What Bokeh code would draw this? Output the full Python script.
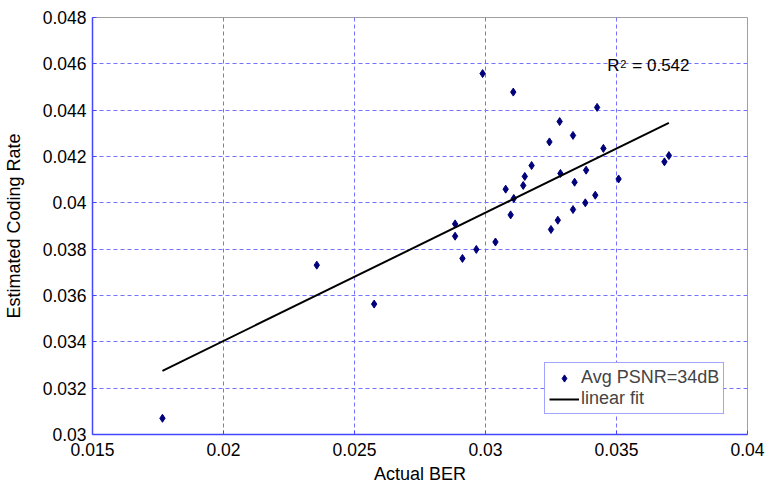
import numpy as np
from bokeh.plotting import figure
from bokeh.models import Range1d, FixedTicker, Legend, LegendItem, Label
from bokeh.embed import file_html
from bokeh.resources import INLINE

# Data
actual_ber = [0.01767, 0.02356, 0.02575, 0.02884, 0.02884, 0.02912, 0.02965, 0.02989,
              0.03038, 0.03077, 0.03096, 0.03106, 0.03108, 0.03144, 0.03150, 0.03176,
              0.03244, 0.03250, 0.03276, 0.03283, 0.03286, 0.03334, 0.03334, 0.03340,
              0.03381, 0.03384, 0.03419, 0.03426, 0.03450, 0.03508, 0.03683, 0.03700]
est_rate = [0.03070, 0.03731, 0.03563, 0.03909, 0.03856, 0.03760, 0.03799, 0.04558,
            0.03831, 0.04059, 0.03948, 0.04478, 0.04019, 0.04075, 0.04114, 0.04161,
            0.04263, 0.03885, 0.03925, 0.04351, 0.04127, 0.04291, 0.03971, 0.04089,
            0.04000, 0.04141, 0.04033, 0.04412, 0.04235, 0.04103, 0.04177, 0.04204]

fit_x = [0.01767, 0.03700]
fit_y = [0.03275, 0.04345]

x_ticks = [0.015, 0.02, 0.025, 0.03, 0.035, 0.04]
x_tick_labels = ["0.015", "0.02", "0.025", "0.03", "0.035", "0.04"]
y_ticks = [0.03, 0.032, 0.034, 0.036, 0.038, 0.04, 0.042, 0.044, 0.046, 0.048]
y_tick_labels = ["0.03", "0.032", "0.034", "0.036", "0.038", "0.04", "0.042", "0.044", "0.046", "0.048"]

r2_pos = (0.03465, 0.04551)
series_label = "Avg PSNR=34dB"
fit_label = "linear fit"

FONT = "Liberation Sans"
BLUE = "#4646ff"
GRID = "#7272ff"
NAVY = "#00007a"

p = figure(width=765, height=487, output_backend="svg", toolbar_location=None,
           x_range=Range1d(0.015, 0.04), y_range=Range1d(0.03, 0.048),
           min_border_left=91, min_border_right=18, min_border_top=17, min_border_bottom=53)

p.outline_line_color = "#a0a0a0"
p.outline_line_width = 1

p.xaxis.ticker = FixedTicker(ticks=x_ticks)
p.yaxis.ticker = FixedTicker(ticks=y_ticks)
p.xaxis.major_label_overrides = {t: l for t, l in zip(x_ticks, x_tick_labels)}
p.yaxis.major_label_overrides = {t: l for t, l in zip(y_ticks, y_tick_labels)}

for ax in (p.xaxis[0], p.yaxis[0]):
    ax.axis_line_color = BLUE
    ax.axis_line_width = 1.5
    ax.major_tick_line_color = BLUE
    ax.major_tick_in = 4
    ax.major_tick_out = 0
    ax.minor_tick_line_color = None
    ax.major_label_text_font = FONT
    ax.major_label_text_font_size = "17.5px"
    ax.major_label_text_color = "#000000"
    ax.axis_label_text_font = FONT
    ax.axis_label_text_font_size = "18px"
    ax.axis_label_text_font_style = "normal"
    ax.axis_label_text_color = "#000000"

p.xaxis.axis_label = "Actual BER"
p.yaxis.axis_label = "Estimated Coding Rate"
p.xaxis.major_label_standoff = 8
p.yaxis.major_label_standoff = 6
p.xaxis.axis_label_standoff = 5
p.yaxis.axis_label_standoff = 16

p.xgrid.grid_line_color = GRID
p.ygrid.grid_line_color = GRID
p.xgrid.grid_line_dash = "4 3"
p.ygrid.grid_line_dash = "4 3"
p.xgrid.grid_line_width = 1
p.ygrid.grid_line_width = 1

sc = p.scatter(actual_ber, est_rate, marker="diamond", size=8, fill_color=NAVY, line_color=NAVY)
ln = p.line(fit_x, fit_y, line_color="black", line_width=2)

p.add_layout(Label(x=r2_pos[0], y=r2_pos[1], text="R", text_font=FONT, text_font_size="17px",
                   text_color="black"))
p.add_layout(Label(x=r2_pos[0], y=r2_pos[1], x_offset=13, y_offset=7, text="2", text_font=FONT,
                   text_font_size="11px", text_color="black"))
p.add_layout(Label(x=r2_pos[0], y=r2_pos[1], x_offset=25, text="= 0.542", text_font=FONT,
                   text_font_size="17px", text_color="black"))

legend = Legend(items=[LegendItem(label=series_label, renderers=[sc]),
                       LegendItem(label=fit_label, renderers=[ln])],
                location=(452, 20))
legend.border_line_color = BLUE
legend.border_line_width = 1
legend.background_fill_color = "white"
legend.background_fill_alpha = 1
legend.label_text_font = FONT
legend.label_text_font_size = "18px"
legend.glyph_width = 30
legend.glyph_height = 18
legend.spacing = 0
legend.padding = 4
legend.margin = 0
legend.label_standoff = 2
legend.label_height = 18
p.add_layout(legend, "center")

open("out.html", "w").write(file_html(p, INLINE))
